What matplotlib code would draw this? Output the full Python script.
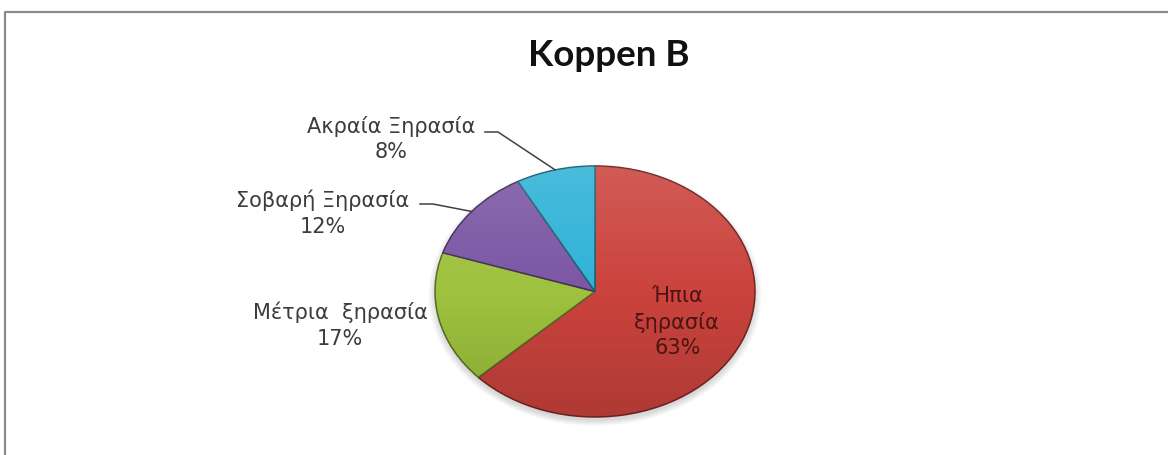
import matplotlib

matplotlib.use("Agg")

import matplotlib.pyplot as plt
import numpy as np
from matplotlib.patches import Circle
from matplotlib.colors import to_rgb

# Koppen B drought classes
labels = ["Ήπια\nξηρασία", "Μέτρια  ξηρασία", "Σοβαρή Ξηρασία", "Ακραία Ξηρασία"]
shares = [63, 17, 12, 8]
colors = ["#CB433D", "#9EC23E", "#7B57A4", "#2FB2D6"]

W, H = 1168, 455
fig = plt.figure(figsize=(W / 100, H / 100), dpi=100)
fig.patch.set_facecolor("white")


def px(x, y):
    """pixel position (origin top-left) -> figure fraction"""
    return x / W, 1 - y / H


# grey chart-area frame
frame = fig.add_axes([0, 0, 1, 1], zorder=-5)
frame.set_xlim(0, W)
frame.set_ylim(H, 0)
frame.axis("off")
frame.plot([4.5, 4.5, W + 5], [H + 5, 11.5, 11.5], color="#8a8a8a", lw=1.6)

fig.text(*px(609, 55), "Koppen B", ha="center", va="center",
         fontsize=26.5, fontweight="bold", family="Lato", color="#111111")

# pie drawn squashed into an ellipse for the tilted look
cx, cy, rx, ry = 595, 291.5, 160, 125.5
ax = fig.add_axes([(cx - rx * 1.02) / W, (H - cy - ry * 1.02) / H,
                   2 * rx * 1.02 / W, 2 * ry * 1.02 / H])

# soft drop shadow below the pie
for k in range(5):
    ax.add_patch(Circle((0, -0.03), 1.0 + 0.01 * k, color="#000000",
                        alpha=0.03, lw=0, zorder=0, clip_on=False))

wedges, _ = ax.pie(shares, colors=colors, startangle=90, counterclock=False,
                   radius=1.0,
                   wedgeprops={"linewidth": 1.1, "zorder": 2})
for w, c in zip(wedges, colors):
    w.set_edgecolor(tuple(v * 0.55 for v in to_rgb(c)))

ax.set_aspect("auto")
ax.set_xlim(-1.02, 1.02)
ax.set_ylim(-1.02, 1.02)
ax.axis("off")

# light-to-dark vertical shading over the whole pie
yy = np.linspace(1, -1, 256)[:, None] * np.ones((1, 4))
shade = np.zeros((256, 4, 4))
top = np.clip(yy, 0, 1)
bot = np.clip(-yy, 0, 1)
shade[..., :3] = np.where(yy[..., None] > 0, 1.0, 0.0)
shade[..., 3] = 0.13 * top + 0.14 * bot
img = ax.imshow(shade, extent=(-1, 1, -1, 1), aspect="auto", zorder=3,
                interpolation="bilinear")
img.set_clip_path(Circle((0, 0), 1.0, transform=ax.transData))
ax.set_xlim(-1.02, 1.02)
ax.set_ylim(-1.02, 1.02)

fig.canvas.draw()
to_data = ax.transData.inverted()


def pix_to_data(x, y):
    return to_data.transform((x, H - y))


def mid_angle(w):
    return np.deg2rad((w.theta1 + w.theta2) / 2)


text_kw = dict(ha="center", va="center", fontsize=15, color="#3c3c3c",
               linespacing=1.35, family="DejaVu Sans")

# inside label for the largest class
a = mid_angle(wedges[0])
ax.text(0.56 * np.cos(a), 0.56 * np.sin(a) - 0.02, f"{labels[0]}\n{shares[0]}%",
        zorder=5, **{**text_kw, "color": "#4a1512"})

# outside labels: text centre, end of leader's horizontal run
outside = {
    1: ((340, 325), None),
    2: ((323, 213), (420, 204, 433)),
    3: ((391, 139), (485, 132, 498)),
}
for i, ((tx, ty), lead) in outside.items():
    fig.text(*px(tx, ty), f"{labels[i]}\n{shares[i]}%", **text_kw)
    if lead is None:
        continue
    x0, y0, x1 = lead
    a = mid_angle(wedges[i])
    p0 = pix_to_data(x0, y0)
    p1 = pix_to_data(x1, y0)
    ax.plot([p0[0], p1[0], np.cos(a)], [p0[1], p1[1], np.sin(a)],
            color="#404040", lw=1.1, zorder=6, clip_on=False)

fig.savefig("out.png", dpi=100)
